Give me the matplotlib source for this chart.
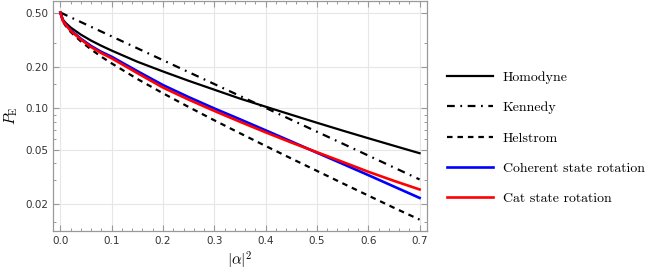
import numpy as np
import matplotlib
matplotlib.use("Agg")
import matplotlib.pyplot as plt
from matplotlib.ticker import FixedLocator, FixedFormatter, NullFormatter

plt.rcParams["mathtext.fontset"] = "cm"

# |alpha|^2 sample points
n_vals = [0.0, 0.005, 0.01, 0.02, 0.04, 0.06, 0.08, 0.1, 0.15, 0.2, 0.25,
          0.3, 0.35, 0.4, 0.45, 0.5, 0.55, 0.6, 0.65, 0.7]

# error probabilities
homodyne = [0.5, 0.444, 0.421, 0.389, 0.345, 0.312, 0.286, 0.264, 0.219, 0.186, 0.159,
            0.137, 0.118, 0.103, 0.090, 0.0787, 0.069, 0.0607, 0.0535, 0.0472]
kennedy_n = [0.0, 0.1, 0.2, 0.3, 0.4, 0.5, 0.6, 0.7]
kennedy = [0.5, 0.335, 0.2247, 0.1506, 0.101, 0.0677, 0.0454, 0.0304]
helstrom = [0.5, 0.4296, 0.401, 0.361, 0.308, 0.269, 0.238, 0.213, 0.164, 0.129, 0.1025,
            0.0820, 0.0660, 0.0533, 0.0432, 0.0351, 0.0285, 0.0232, 0.0189, 0.0155]
coherent_rot = [0.5, 0.436, 0.412, 0.372, 0.322, 0.285, 0.258, 0.238, 0.187, 0.148, 0.121,
                0.100, 0.0834, 0.0693, 0.0575, 0.0476, 0.0395, 0.0327, 0.0270, 0.0223]
cat_rot = [0.5, 0.434, 0.409, 0.368, 0.318, 0.280, 0.253, 0.232, 0.181, 0.142, 0.116,
           0.096, 0.0800, 0.0670, 0.0565, 0.0480, 0.0408, 0.0346, 0.0297, 0.0257]

y_major = [0.02, 0.05, 0.10, 0.20, 0.50]
y_major_labels = ["0.02", "0.05", "0.10", "0.20", "0.50"]
y_minor = [0.015, 0.03, 0.04, 0.06, 0.07, 0.08, 0.09, 0.15, 0.3]
x_major = [0.0, 0.1, 0.2, 0.3, 0.4, 0.5, 0.6, 0.7]

fig = plt.figure(figsize=(6.54, 2.79), dpi=100)
ax = fig.add_axes([0.081, 0.172, 0.572, 0.826])

ax.plot(n_vals, homodyne, color="black", lw=1.6, label="Homodyne")
ax.plot(kennedy_n, kennedy, color="black", lw=1.6, dashes=(3.5, 2.5, 0.8, 2.5), label="Kennedy")
ax.plot(n_vals, helstrom, color="black", lw=1.6, dashes=(2.5, 2.2), label="Helstrom")
ax.plot(n_vals, coherent_rot, color="#0000ff", lw=1.9, label="Coherent state rotation")
ax.plot(n_vals, cat_rot, color="#ff0000", lw=1.9, label="Cat state rotation")

ax.set_yscale("log")
ax.set_xlim(-0.0144, 0.7146)
ax.set_ylim(0.0128, 0.611)

ax.yaxis.set_major_locator(FixedLocator(y_major))
ax.yaxis.set_major_formatter(FixedFormatter(y_major_labels))
ax.yaxis.set_minor_locator(FixedLocator(y_minor))
ax.yaxis.set_minor_formatter(NullFormatter())
ax.xaxis.set_major_locator(FixedLocator(x_major))
ax.xaxis.set_minor_locator(FixedLocator(np.arange(0.0, 0.71, 0.02)))
ax.set_xticklabels([f"{v:.1f}" for v in x_major])

ax.grid(True, which="major", color="#e6e6e6", lw=0.8)
ax.set_axisbelow(True)
for s in ax.spines.values():
    s.set_color("#999999")
    s.set_linewidth(0.9)
ax.tick_params(which="both", direction="in", top=True, right=True, color="#999999",
               labelsize=7.5, labelcolor="#333333")
ax.tick_params(which="major", length=4, width=0.8)
ax.tick_params(which="minor", length=2.3, width=0.7)

ax.set_xlabel(r"$|\alpha|^2$", fontsize=11, labelpad=3)
ax.set_ylabel(r"$P_{\mathrm{E}}$", fontsize=11, labelpad=4)

fig.legend(loc="upper left", bbox_to_anchor=(0.665, 0.79), frameon=False,
           prop={"family": "cmr10", "size": 10}, handlelength=3.3, handletextpad=0.7,
           labelspacing=1.27)

fig.savefig("out.png", dpi=100)
